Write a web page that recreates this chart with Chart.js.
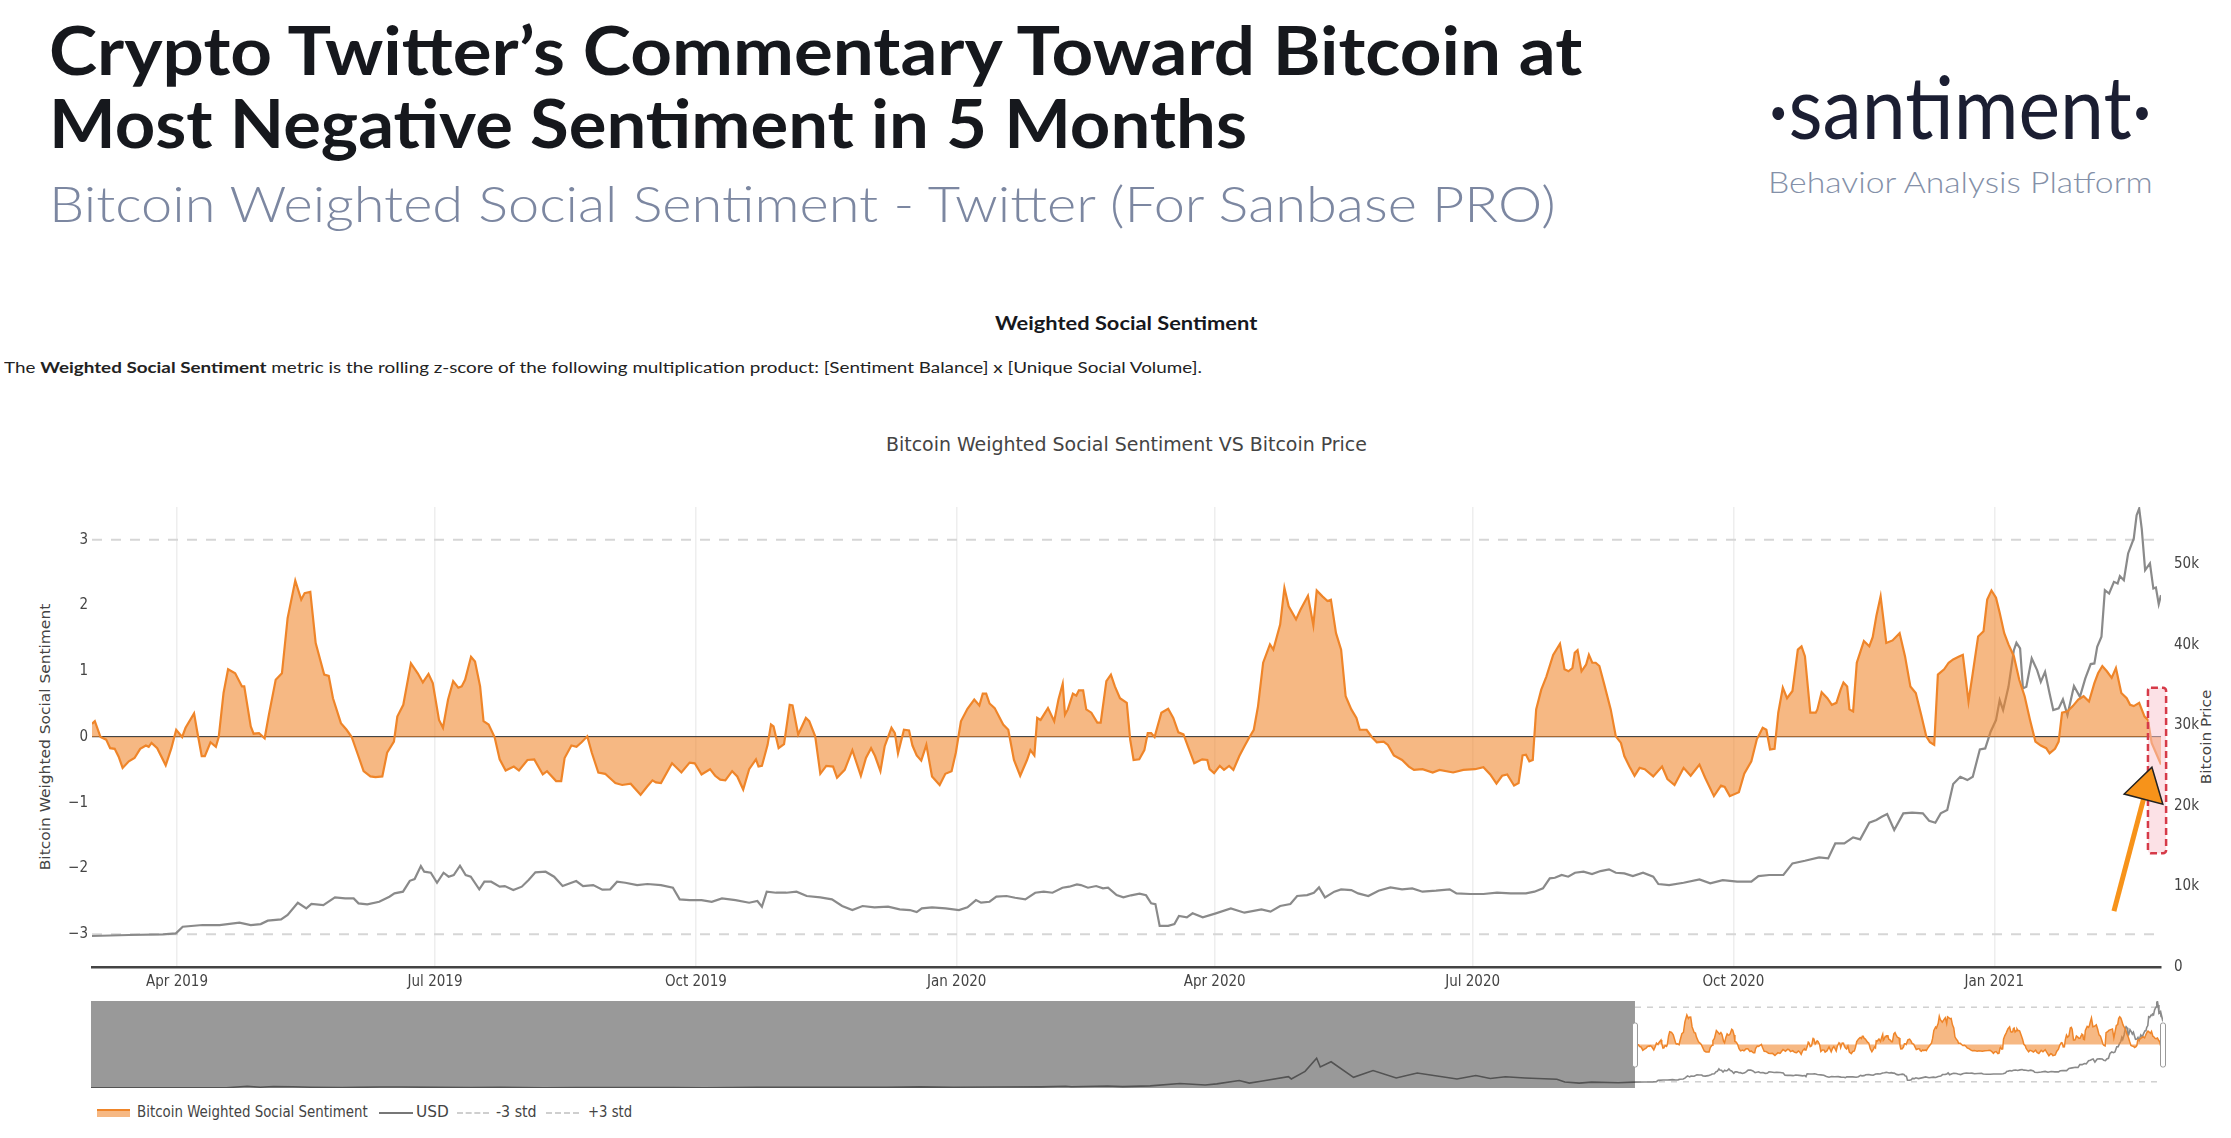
<!DOCTYPE html>
<html>
<head>
<meta charset="utf-8">
<title>Bitcoin Weighted Social Sentiment VS Bitcoin Price</title>
<script src="https://cdn.jsdelivr.net/npm/chart.js@4.4.1/dist/chart.umd.min.js"></script>
<style>
  html, body { margin: 0; padding: 0; background: #fff; }
  body { width: 2231px; height: 1138px; position: relative; overflow: hidden; font-family: Lato, "Open Sans", sans-serif; }
  .t { position: absolute; white-space: nowrap; line-height: 1; transform-origin: 0 0; }
  .narrow { font-family: "Liberation Sans Narrow", "DejaVu Sans Condensed", "Liberation Sans", sans-serif; color: #444; }
  .rot { position: absolute; white-space: nowrap; line-height: 1; transform-origin: 0 0; font-family: "DejaVu Sans", "Liberation Sans", sans-serif; font-size: 14px; color: #444; }
  canvas { position: absolute; left: 0; }
  .sw { position: absolute; }
</style>
</head>
<body>

<div class="t" data-w="1533" style="left:49px;top:17px;font-size:66px;font-weight:700;color:#16181d">Crypto Twitter’s Commentary Toward Bitcoin at</div>
<div class="t" data-w="1198" style="left:49px;top:90px;font-size:66px;font-weight:700;color:#16181d">Most Negative Sentiment in 5 Months</div>
<div class="t" data-w="1507" style="left:49px;top:179px;font-size:49px;font-weight:300;color:#7c87a1">Bitcoin Weighted Social Sentiment - Twitter (For Sanbase PRO)</div>

<div class="t" data-w="384" style="left:1768px;top:62px;font-size:87px;font-weight:400;color:#1b1e32">·santiment·</div>
<div class="t" data-w="385" style="left:1768px;top:167px;font-size:29px;font-weight:300;color:#8490a8">Behavior Analysis Platform</div>

<div class="t" data-w="262" style="left:995px;top:314px;font-size:18px;font-weight:700;color:#16181d">Weighted Social Sentiment</div>
<div class="t" data-w="1198" style="left:4px;top:359px;font-size:16px;color:#222">The <b>Weighted Social Sentiment</b> metric is the rolling z-score of the following multiplication product: [Sentiment Balance] x [Unique Social Volume].</div>

<div class="t narrow" data-w="481" style="left:886px;top:435px;font-size:19px">Bitcoin Weighted Social Sentiment VS Bitcoin Price</div>

<div class="rot" data-w="267" data-cx="45" data-cy="737">Bitcoin Weighted Social Sentiment</div>
<div class="rot" data-w="95" data-cx="2206" data-cy="737">Bitcoin Price</div>

<canvas id="main" width="2231" height="600" style="top:400px;width:2231px;height:600px"></canvas>
<canvas id="nav" width="2231" height="110" style="top:990px;width:2231px;height:110px"></canvas>

<!-- legend -->
<div class="sw" style="left:97px;top:1109px;width:33px;height:6px;background:rgba(240,132,42,0.58);border-top:2px solid #ef8529"></div>
<div class="t narrow" data-w="231" style="left:137px;top:1105px;font-size:15px">Bitcoin Weighted Social Sentiment</div>
<div class="sw" style="left:379px;top:1112px;width:34px;height:2px;background:#777"></div>
<div class="t narrow" data-w="33" style="left:416px;top:1105px;font-size:15px">USD</div>
<div class="sw" style="left:457px;top:1112px;width:32px;border-top:2px dashed #cfcfcf"></div>
<div class="t narrow" data-w="41" style="left:496px;top:1105px;font-size:15px">-3 std</div>
<div class="sw" style="left:546px;top:1112px;width:33px;border-top:2px dashed #cfcfcf"></div>
<div class="t narrow" data-w="44" style="left:588px;top:1105px;font-size:15px">+3 std</div>

<script>
// day 0 = 2019-03-02
const startDate = '2019-03-02';

// [day, weighted social sentiment]
const sentiment = [
  [0,0.2],[1,0.24],[3,0],[5,-0.04],[6.4,-0.17],[8,-0.18],[9.4,-0.3],[10.8,-0.47],[13,-0.37],[15,-0.32],
  [17,-0.18],[19,-0.13],[20,-0.15],[21,-0.09],[23,-0.17],[26,-0.43],[28,-0.17],[29.7,0.11],[31.8,0],[33,0.14],
  [36,0.36],[37,0.11],[38.7,-0.29],[39.8,-0.29],[41.8,-0.08],[43.7,-0.15],[44.7,0],[46.4,0.67],[48,1.03],[50.5,0.97],
  [52.9,0.77],[53.7,0.77],[56,0.16],[57,0.05],[58.9,0.06],[60.9,-0.02],[62.4,0.34],[64.8,0.87],[67,0.97],[69,1.81],
  [71.7,2.38],[73.8,2.09],[75,2.19],[77,2.21],[78.9,1.43],[81.9,0.95],[83.5,0.93],[85,0.59],[87.8,0.21],[89.8,0.11],
  [91.6,0],[93.8,-0.27],[95.8,-0.52],[98.2,-0.6],[100,-0.61],[102.4,-0.6],[104.1,-0.24],[106.5,-0.07],[107.7,0.31],[109.8,0.49],
  [112.5,1.12],[114.9,0.97],[116.7,0.83],[118.7,0.96],[120.2,0.82],[122.4,0.26],[123.8,0.14],[125.6,0.57],[127.4,0.85],[129.2,0.75],
  [130.4,0.77],[131.6,0.87],[133.7,1.22],[135.1,1.15],[136.9,0.77],[138.1,0.24],[139.9,0.19],[142,0],[143.8,-0.34],[145.9,-0.51],
  [148.8,-0.45],[150.6,-0.51],[153.6,-0.35],[156,-0.34],[159,-0.57],[160.5,-0.52],[163.7,-0.67],[165.5,-0.67],[166.7,-0.32],[169.1,-0.13],
  [170.9,-0.15],[172.7,-0.08],[174.7,0.01],[176.3,-0.24],[178.6,-0.54],[181,-0.56],[184.6,-0.7],[187,-0.73],[190,-0.71],[193.5,-0.88],
  [195.9,-0.75],[197.7,-0.66],[198.9,-0.69],[200.7,-0.7],[204.6,-0.4],[207.9,-0.54],[210.8,-0.39],[212.6,-0.4],[215,-0.57],[218,-0.49],
  [219.8,-0.59],[221.6,-0.65],[223.4,-0.66],[225.8,-0.52],[227.6,-0.6],[229.7,-0.8],[231.8,-0.49],[234.2,-0.34],[235.1,-0.45],[236.3,-0.44],
  [238.3,-0.12],[239.5,0.19],[240.4,0.16],[242.2,-0.17],[244.1,-0.11],[246.1,0.49],[247.1,0.48],[249.1,0.04],[251.8,0.29],[253,0.24],
  [255.1,0.01],[256.9,-0.56],[259,-0.44],[261.4,-0.45],[262.8,-0.62],[265.5,-0.5],[268.2,-0.2],[271.2,-0.59],[273,-0.32],[274.8,-0.17],
  [276.2,-0.29],[278.1,-0.52],[279.6,-0.14],[282,0.14],[283.2,0.06],[284.3,-0.25],[286.4,0.11],[288.2,0.1],[289.4,-0.13],[290.9,-0.28],
  [292.5,-0.36],[294.3,-0.12],[296.3,-0.6],[299,-0.73],[301,-0.56],[303.2,-0.52],[304.7,-0.24],[306.5,0.24],[308.8,0.43],[311.2,0.57],
  [313,0.48],[314.2,0.66],[315.4,0.66],[316.6,0.51],[318.4,0.44],[321.4,0.19],[323.2,0.11],[325.2,-0.35],[327.4,-0.59],[329.8,-0.35],
  [331,-0.2],[332.4,-0.28],[333.4,0.29],[334.6,0.26],[337.2,0.44],[339.4,0.24],[340.9,0.57],[342.4,0.81],[343.2,0.34],[344.2,0.42],
  [346,0.66],[347.2,0.63],[348.1,0.71],[349.6,0.71],[350.7,0.42],[352.5,0.37],[354.6,0.22],[355.8,0.22],[357.8,0.85],[359.4,0.95],
  [360.8,0.77],[362.6,0.59],[365,0.52],[366.2,-0.04],[367.4,-0.35],[369.4,-0.34],[371.2,-0.2],[372.4,0.06],[373.6,0.06],[374.8,0],
  [377.2,0.37],[379.6,0.43],[381.4,0.29],[383.2,0.07],[385,0.04],[386.8,-0.17],[388.8,-0.4],[391.6,-0.34],[393.4,-0.35],[394.2,-0.49],
  [395.8,-0.55],[397.8,-0.44],[399.3,-0.5],[401.1,-0.44],[402.6,-0.5],[404.7,-0.29],[406.5,-0.14],[408.3,0],[409.8,0.11],[411.3,0.47],
  [413.1,1.13],[415.5,1.41],[416.7,1.33],[419.1,1.71],[420.6,2.27],[422.1,1.99],[424.7,1.79],[426.3,1.94],[428.9,2.15],[430.8,1.7],
  [432,2.23],[434,2.14],[435.8,2.07],[437,2.09],[438.8,1.58],[440.6,1.33],[442.2,0.62],[444.2,0.42],[446,0.29],[447.2,0.11],
  [449.6,0.11],[451.4,0],[453.2,-0.08],[455.6,-0.07],[457.1,-0.12],[459.2,-0.28],[462.1,-0.35],[464.5,-0.45],[466.3,-0.5],[469.3,-0.49],
  [472.9,-0.54],[475.3,-0.5],[480.1,-0.54],[483.7,-0.5],[487.8,-0.49],[490.8,-0.46],[493.2,-0.57],[495.4,-0.71],[497.4,-0.59],[499.2,-0.57],
  [501.6,-0.74],[503.2,-0.7],[504.6,-0.28],[505.8,-0.27],[507,-0.37],[508.2,-0.35],[509.4,0.42],[511.2,0.72],[513,0.92],[515.4,1.25],
  [517.8,1.42],[519.4,1.03],[520.8,1],[522.2,1.05],[523,1.28],[524,1.32],[525.4,1],[527,1.1],[528,1.25],[529.2,1.13],
  [530.4,1.13],[531.7,1.08],[533.3,0.82],[535.7,0.42],[537.5,0.01],[539.3,-0.09],[540.5,-0.29],[542.3,-0.45],[544.1,-0.59],[545.9,-0.47],
  [547.7,-0.49],[550.7,-0.6],[553.8,-0.45],[555.7,-0.64],[558.2,-0.73],[561.4,-0.47],[563.9,-0.59],[567,-0.42],[569,-0.62],[572.1,-0.9],
  [574.6,-0.74],[575.9,-0.76],[577.7,-0.9],[580.9,-0.84],[582.8,-0.56],[585.3,-0.37],[587.2,-0.04],[589.3,0.14],[590.6,0.11],[591.9,-0.19],
  [593.5,-0.18],[594.8,0.37],[596.4,0.75],[597.9,0.59],[599.8,0.7],[601.7,1.33],[603,1.38],[604.2,1.23],[606.1,0.37],[608,0.37],
  [608.6,0.42],[610.1,0.68],[612.1,0.59],[613.7,0.49],[615.3,0.52],[616.8,0.72],[617.8,0.83],[619.1,0.77],[619.9,0.42],[621.2,0.39],
  [622.5,1.13],[625,1.46],[626.9,1.38],[628.1,1.52],[629.4,1.84],[630.9,2.14],[632.9,1.43],[635.1,1.47],[637.6,1.58],[639.5,1.23],
  [641.4,0.77],[643.3,0.67],[645.2,0.34],[647,0.01],[648.3,-0.08],[649.8,-0.12],[651.1,0.95],[653.3,1.03],[654.9,1.13],[656.5,1.18],
  [658.4,1.22],[659.9,1.25],[661.9,0.54],[663.4,0.97],[665.3,1.53],[667.2,1.61],[668.5,2.09],[670,2.23],[671.6,2.12],[672.9,1.89],
  [674.5,1.58],[676,1.41],[677.9,1.23],[679.8,0.87],[681.7,0.62],[683.6,0.26],[685.5,-0.07],[687.4,-0.13],[689.3,-0.17],[690.5,-0.25],
  [692.4,-0.18],[693.7,-0.07],[694.9,0.37],[696.8,0.39],[698.7,0.47],[700.6,0.57],[702.5,0.62],[704.4,0.54],[706.3,0.82],[707.6,0.97],
  [709.1,1.08],[710.7,1],[712.4,0.9],[713.9,1.05],[715.8,0.67],[717.7,0.59],[718.9,0.49],[720.2,0.47],[722.1,0.52],[724,0.31],
  [725.2,0.26],[726.5,-0.09],[729.8,-0.42]
];

// [day, BTC price in USD]
const usd = [
  [0,3850],[13,3970],[25,4050],[29.6,4180],[32,5000],[39,5210],[45,5210],[52,5500],[56,5210],[59.5,5330],
  [62,5750],[66.7,5920],[69,6450],[72.6,7980],[75.6,7280],[77.4,7820],[81.6,7690],[85.7,8640],[89.3,8520],[92.3,8520],
  [94,7900],[97.1,7780],[101.3,8100],[104.9,8730],[106.7,9140],[109.7,9350],[112.1,10700],[113.8,10920],[116,12530],[117.2,11830],
  [119.5,11700],[121.7,10460],[124,11700],[125.8,11210],[127.6,11420],[129.8,12570],[131.8,11420],[133.6,11210],[136.6,9640],[138.4,10590],
  [140.8,10590],[143.8,9970],[145.6,10050],[148.6,9550],[151.6,9970],[154,10800],[156.4,11750],[160,11830],[163,11210],[166,10050],
  [170.8,10670],[173.2,10050],[176.8,10170],[180,9600],[182.8,9640],[185.2,10590],[188.1,10460],[192.3,10170],[195.9,10300],[200.7,10170],
  [204.9,9840],[207.3,8400],[210.8,8310],[215,8310],[218.6,8100],[222.2,8520],[227,8310],[231.8,7980],[234.7,8190],[236.3,7490],
  [238,9350],[241.3,9220],[244.9,9220],[248.5,9350],[252.1,8810],[256.9,8640],[261,8400],[264.6,7570],[268.2,7070],[271.8,7570],
  [276,7400],[280.8,7490],[284.9,7160],[288.5,7070],[290.9,6820],[292.7,7280],[296.3,7400],[301.1,7280],[305.8,7070],[308.8,7400],
  [311.8,8310],[313.6,7980],[316.6,8100],[319,8730],[322.6,8810],[325.6,8600],[329.2,8400],[332.7,9220],[335.7,9350],[338.8,9220],
  [342.3,9840],[344.7,9970],[347.4,10260],[348.8,10170],[351.3,9840],[354.2,10050],[356.6,9760],[358.4,9840],[361.4,8930],[363.8,8640],
  [366.5,8900],[369.5,9100],[371.8,8900],[373.6,7900],[375.1,7800],[376.6,5100],[379.6,5100],[381.8,5330],[383.4,6330],[386.2,6160],
  [388.2,6660],[391.8,6160],[396.4,6660],[401.7,7280],[406.5,6740],[412.5,7160],[415.7,6870],[419.1,7570],[422.7,7820],[425.1,8810],
  [428.6,8930],[431,9220],[432.8,9880],[434.9,8640],[438.2,9350],[440.6,9640],[444.2,9550],[446.6,9140],[450.2,8810],[453.8,9470],
  [458,9880],[462.1,9640],[465.7,9760],[469.3,9350],[474.1,9470],[478.9,9640],[481.3,9140],[486.1,9060],[490.8,9060],[495.6,9220],
  [500.4,9140],[505.8,9140],[508.8,9350],[511.8,9760],[514.2,11000],[516,11080],[518.4,11420],[520.7,11210],[523.1,11700],[526.1,11830],
  [529.1,11540],[532.1,11910],[535.1,12120],[537.5,11700],[540.5,11620],[543.5,11290],[547.1,11700],[550.7,11210],[552.5,10300],[556.3,10170],
  [561.4,10460],[567,10880],[570.8,10380],[575.2,10790],[580.3,10590],[585.3,10590],[587.8,11290],[591.6,11420],[596.6,11420],[599.8,12860],
  [604.2,13190],[609.2,13610],[612.4,13480],[614.9,15340],[618.1,15340],[621.2,16090],[623.7,15840],[626.9,17910],[629.4,18240],[631.3,18650],
  [633.2,18980],[635.7,17000],[638.9,19070],[642,19150],[645.8,19070],[648,18160],[650.2,17910],[652.1,19070],[654.4,19480],[656.5,22710],
  [659,23620],[661.5,23200],[663.4,23620],[665.9,27010],[667.8,27130],[669.7,29200],[671.6,30650],[672.9,33130],[674.1,31890],[676,34780],
  [677.9,39330],[678.8,40240],[680.1,39540],[681.1,34580],[682.3,34780],[684.2,38300],[686.1,36850],[687.4,35400],[688.9,36640],[690.5,33950],
  [691.8,31890],[693.7,32100],[695.2,33210],[696.8,31270],[699.1,34870],[701.2,33540],[703.1,35820],[705,37600],[706.3,37680],[707.3,39750],
  [708.8,40990],[710,46780],[711.5,46360],[713.2,47810],[714.5,47610],[715.3,48520],[716.7,48020],[718.2,51330],[720.2,53190],[721.2,56080],
  [722.1,56910],[723,54430],[724.2,49260],[725.9,50090],[727.1,46980],[728,47110],[729,45040],[729.8,46160]
];

// older price history, only shown in the range slider
const historyDates = ['2013-04-28','2013-06-01','2013-07-05','2013-08-01','2013-09-01','2013-10-01','2013-11-01','2013-11-30','2013-12-18','2014-01-05',
  '2014-02-01','2014-02-25','2014-04-10','2014-05-01','2014-06-01','2014-07-01','2014-08-18','2014-10-05','2014-11-15','2015-01-14',
  '2015-03-01','2015-06-01','2015-07-10','2015-08-24','2015-10-01','2015-11-04','2015-12-16','2016-01-15','2016-03-01','2016-05-01',
  '2016-06-17','2016-08-02','2016-10-01','2016-12-01','2017-01-04','2017-01-12','2017-03-03','2017-03-24','2017-05-01','2017-06-11',
  '2017-07-16','2017-08-01','2017-09-01','2017-09-15','2017-10-01','2017-11-08','2017-11-12','2017-12-01','2017-12-17','2017-12-22',
  '2018-01-06','2018-02-06','2018-03-05','2018-04-06','2018-05-05','2018-06-29','2018-07-25','2018-08-14','2018-09-04','2018-10-01',
  '2018-11-14','2018-11-25','2018-12-15','2019-01-01','2019-02-07','2019-03-01'];
const historyPrice = [134,129,80,105,140,125,205,1130,520,950,
  830,530,360,450,640,640,450,320,400,180,
  260,225,290,210,240,400,455,380,435,450,
  750,540,615,750,1150,790,1280,930,1420,2950,
  1930,2720,4900,3230,4400,7450,5950,10900,19500,13800,
  17200,7000,11500,6600,9800,5900,8200,6200,7400,6600,
  5700,3900,3230,3850,3400,3850];

const tickDates = ['2019-04-01','2019-07-01','2019-10-01','2020-01-01','2020-04-01','2020-07-01','2020-10-01','2021-01-01'];
const tickLabels = ['Apr 2019','Jul 2019','Oct 2019','Jan 2020','Apr 2020','Jul 2020','Oct 2020','Jan 2021'];
const leftTicks = [-3, -2, -1, 0, 1, 2, 3];
const rightTicks = [0, 10000, 20000, 30000, 40000, 50000];
const stdBands = [-3, 3];

// annotation: highlight box and arrow, in chart units [day, sentiment]
const boxDays = [725.2, 731.6];
const boxVals = [-1.77, 0.75];
const arrowFrom = [713.2, -2.65];
const arrowTo = [726.6, -0.46];

const NARROW = '"Liberation Sans Narrow", "DejaVu Sans Condensed", "Liberation Sans", sans-serif';
const ORANGE = '#ef8529';
const ORANGE_FILL = 'rgba(240,132,42,0.58)';
const GREY = '#8a8a8a';

function utc(s) {
  const q = s.split('-').map(Number);
  return Date.UTC(q[0], q[1] - 1, q[2]);
}
function dayOf(s) {
  return (utc(s) - utc(startDate)) / 86400000;
}

const lastDay = sentiment[sentiment.length - 1][0];
const sentPts = sentiment.map(p => ({ x: p[0], y: p[1] }));
const usdPts = usd.map(p => ({ x: p[0], y: p[1] }));
const tickDays = tickDates.map(dayOf);
const stdLine = v => [{ x: 0, y: v }, { x: lastDay, y: v }];

// fit header/legend texts to the measured widths
document.querySelectorAll('.t[data-w]').forEach(el => {
  const s = +el.dataset.w / el.offsetWidth;
  el.style.transform = 'scaleX(' + s + ')';
});
document.querySelectorAll('.rot').forEach(el => {
  const s = +el.dataset.w / el.offsetWidth;
  el.style.left = el.dataset.cx + 'px';
  el.style.top = el.dataset.cy + 'px';
  el.style.transform = 'rotate(-90deg) scaleX(' + s + ') translate(-50%,-50%)';
});

const marks = {
  id: 'marks',
  afterDatasetsDraw(chart) {
    const { ctx } = chart;
    const x = chart.scales.x, y = chart.scales.y;
    const bx0 = x.getPixelForValue(boxDays[0]), bx1 = x.getPixelForValue(boxDays[1]);
    const by0 = y.getPixelForValue(boxVals[1]), by1 = y.getPixelForValue(boxVals[0]);
    ctx.save();
    ctx.beginPath();
    ctx.roundRect(bx0, by0, bx1 - bx0, by1 - by0, 3);
    ctx.fillStyle = 'rgba(250,195,205,0.5)';
    ctx.fill();
    ctx.setLineDash([7, 4]);
    ctx.lineWidth = 2.5;
    ctx.strokeStyle = '#d63a48';
    ctx.stroke();
    ctx.setLineDash([]);

    // arrow pointing at the latest dip
    const tx = x.getPixelForValue(arrowFrom[0]), ty = y.getPixelForValue(arrowFrom[1]);
    const hx = x.getPixelForValue(arrowTo[0]), hy = y.getPixelForValue(arrowTo[1]);
    const len = Math.hypot(hx - tx, hy - ty);
    const ux = (hx - tx) / len, uy = (hy - ty) / len;
    const bx = hx - ux * 33, by = hy - uy * 33;
    ctx.strokeStyle = '#f7931a';
    ctx.lineWidth = 5;
    ctx.beginPath();
    ctx.moveTo(tx, ty);
    ctx.lineTo(bx, by);
    ctx.stroke();
    ctx.beginPath();
    ctx.moveTo(hx, hy);
    ctx.lineTo(bx - uy * 20, by + ux * 20);
    ctx.lineTo(bx + uy * 20, by - ux * 20);
    ctx.closePath();
    ctx.fillStyle = '#f7931a';
    ctx.fill();
    ctx.lineWidth = 1.5;
    ctx.strokeStyle = '#222';
    ctx.stroke();
    ctx.restore();
  }
};

const tickFont = { family: NARROW, size: 15 };

new Chart(document.getElementById('main'), {
  type: 'line',
  data: {
    datasets: [
      { label: 'Bitcoin Weighted Social Sentiment', data: sentPts, yAxisID: 'y', borderColor: ORANGE, backgroundColor: ORANGE_FILL,
        fill: 'origin', borderWidth: 2.2, pointRadius: 0, tension: 0 },
      { label: 'USD', data: usdPts, yAxisID: 'y2', borderColor: GREY, borderWidth: 2.2, pointRadius: 0, fill: false },
      { label: '-3 std', data: stdLine(stdBands[0]), yAxisID: 'y', borderColor: '#d6d6d6', borderDash: [10, 9], borderWidth: 2, pointRadius: 0, fill: false },
      { label: '+3 std', data: stdLine(stdBands[1]), yAxisID: 'y', borderColor: '#d6d6d6', borderDash: [10, 9], borderWidth: 2, pointRadius: 0, fill: false }
    ]
  },
  options: {
    responsive: false,
    animation: false,
    events: [],
    layout: { padding: { left: 0, right: 0, top: 107, bottom: 0 } },
    plugins: { legend: { display: false }, tooltip: { enabled: false }, title: { display: false } },
    scales: {
      x: {
        type: 'linear', min: 0, max: lastDay,
        afterBuildTicks: s => { s.ticks = tickDays.map(v => ({ value: v })); },
        afterFit: s => { s.height = 33; },
        ticks: { autoSkip: false, maxRotation: 0, padding: 6, color: '#444', font: tickFont, callback: (v, i) => tickLabels[i] },
        grid: { color: '#eeeeee', lineWidth: 1.5, drawTicks: false },
        border: { display: true, color: '#444', width: 2.5 }
      },
      y: {
        position: 'left', min: -3.5, max: 3.5,
        afterBuildTicks: s => { s.ticks = leftTicks.map(v => ({ value: v })); },
        afterFit: s => { s.width = 92; },
        ticks: { color: '#444', font: tickFont, padding: 4, callback: v => v < 0 ? '\u2212' + Math.abs(v) : String(v) },
        grid: { drawTicks: false, lineWidth: 1.3, color: c => (c.tick && c.tick.value === 0) ? '#444' : 'rgba(0,0,0,0)' },
        border: { display: false }
      },
      y2: {
        position: 'right', min: 0, max: 57100,
        afterBuildTicks: s => { s.ticks = rightTicks.map(v => ({ value: v })); },
        afterFit: s => { s.width = 70; },
        ticks: { color: '#444', font: tickFont, padding: 5, callback: v => v === 0 ? '0' : (v / 1000) + 'k' },
        grid: { display: false },
        border: { display: false }
      }
    }
  },
  plugins: [marks]
});

// range slider underneath
const navStart = dayOf(historyDates[0]);
const navPricePts = historyDates.map((d, i) => ({ x: dayOf(d), y: historyPrice[i] })).concat(usdPts);

const navMask = {
  id: 'navMask',
  afterDatasetsDraw(chart) {
    const { ctx, chartArea } = chart;
    const x = chart.scales.x;
    const x0 = x.getPixelForValue(0), x1 = x.getPixelForValue(lastDay);
    ctx.save();
    ctx.fillStyle = 'rgba(0,0,0,0.4)';
    ctx.fillRect(chartArea.left, chartArea.top, x0 - chartArea.left, chartArea.bottom - chartArea.top);
    [x0, x1].forEach(px => {
      ctx.beginPath();
      ctx.roundRect(px - 2.5, chartArea.top + 22, 5, 44, 2);
      ctx.fillStyle = '#fff';
      ctx.fill();
      ctx.lineWidth = 1;
      ctx.strokeStyle = '#999';
      ctx.stroke();
    });
    ctx.restore();
  }
};

new Chart(document.getElementById('nav'), {
  type: 'line',
  data: {
    datasets: [
      { data: sentPts, yAxisID: 'y', borderColor: ORANGE, backgroundColor: ORANGE_FILL, fill: 'origin', borderWidth: 1.5, pointRadius: 0 },
      { data: navPricePts, yAxisID: 'y2', borderColor: GREY, borderWidth: 1.6, pointRadius: 0, fill: false },
      { data: stdLine(stdBands[0]), yAxisID: 'y', borderColor: '#d0d0d0', borderDash: [6, 6], borderWidth: 1.5, pointRadius: 0, fill: false },
      { data: stdLine(stdBands[1]), yAxisID: 'y', borderColor: '#d0d0d0', borderDash: [6, 6], borderWidth: 1.5, pointRadius: 0, fill: false }
    ]
  },
  options: {
    responsive: false,
    animation: false,
    events: [],
    layout: { padding: { left: 91, right: 68, top: 11, bottom: 12 } },
    plugins: { legend: { display: false }, tooltip: { enabled: false } },
    scales: {
      x: { type: 'linear', display: false, min: navStart, max: lastDay },
      y: { display: false, min: -3.5, max: 3.5 },
      y2: { display: false, min: 0, max: 57100 }
    }
  },
  plugins: [navMask]
});
</script>
</body>
</html>
